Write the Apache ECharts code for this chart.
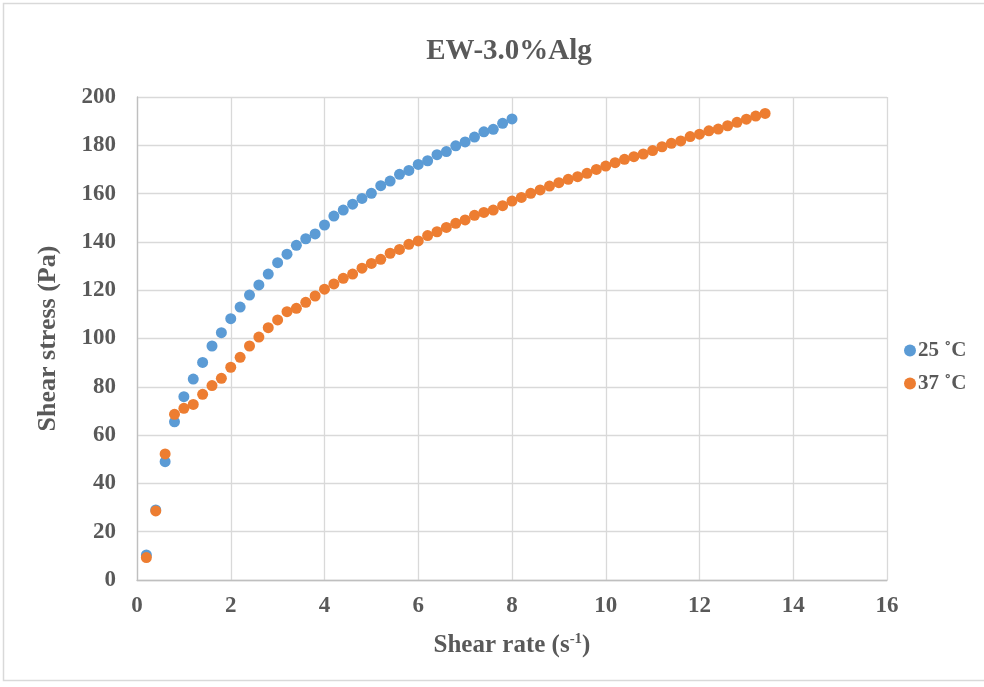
<!DOCTYPE html>
<html>
<head>
<meta charset="utf-8">
<script src="https://cdn.jsdelivr.net/npm/echarts@6/dist/echarts.min.js"></script>
<style>
html,body{margin:0;padding:0;background:#fff;}
#chart{width:984px;height:687px;}
</style>
</head>
<body>
<div id="chart"></div>
<script>
const titleText = "EW-3.0%Alg";
const seriesNames = ["25 ˚C", "37 ˚C"];
const xStep = 0.2;
const stress25 = [10.4, 29.0, 49.0, 65.5, 75.9, 83.2, 90.1, 96.9, 102.4, 108.2,
  113.0, 118.0, 122.2, 126.7, 131.4, 134.9, 138.6, 141.3, 143.3, 147.0,
  150.7, 153.2, 155.6, 158.0, 160.1, 163.3, 165.2, 168.0, 169.6, 172.1,
  173.6, 176.1, 177.4, 179.8, 181.4, 183.4, 185.6, 186.6, 189.1, 190.9];
const stress37 = [9.3, 28.6, 52.2, 68.6, 71.1, 72.7, 76.9, 80.5, 83.5, 88.1,
  92.2, 96.9, 100.6, 104.5, 107.7, 111.1, 112.5, 115.0, 117.6, 120.4,
  122.6, 124.9, 126.7, 129.1, 131.1, 132.8, 135.3, 136.9, 139.0, 140.4,
  142.6, 144.2, 146.0, 147.7, 149.1, 151.0, 152.2, 153.2, 155.0, 156.9,
  158.4, 160.1, 161.5, 163.1, 164.5, 165.9, 167.0, 168.4, 170.0, 171.4,
  172.8, 174.2, 175.3, 176.4, 177.8, 179.4, 180.8, 181.8, 183.6, 184.6,
  186.0, 186.7, 188.1, 189.5, 190.8, 192.1, 193.2];

function toPoints(arr) {
  return arr.map((v, i) => [Math.round((i + 1) * xStep * 10) / 10, v]);
}

const font = "'Liberation Serif', 'Times New Roman', serif";
const txt = '#595959';
const chart = echarts.init(document.getElementById('chart'), null, {renderer: 'canvas'});
chart.setOption({
  backgroundColor: '#fff',
  animation: false,
  graphic: [{
    type: 'rect', left: 1, top: 1,
    shape: {width: 990, height: 677},
    style: {fill: 'none', stroke: '#D9D9D9', lineWidth: 1.5}
  }],
  title: {
    text: titleText, left: 504, textAlign: 'center', top: 32,
    textStyle: {fontFamily: font, fontWeight: 'bold', fontSize: 29, color: txt}
  },
  legend: {
    orient: 'vertical', left: 899, top: 335, itemGap: 12,
    itemWidth: 12, itemHeight: 12, icon: 'circle',
    textStyle: {fontFamily: font, fontWeight: 'bold', fontSize: 21, color: txt, padding: [0,0,0,-3]},
    data: seriesNames
  },
  grid: {left: 137, right: 97, top: 97, bottom: 107},
  xAxis: {
    type: 'value', min: 0, max: 16, interval: 2,
    name: '{n|Shear rate (s}{s|-1}{n|)}',
    nameLocation: 'middle', nameGap: 52,
    nameTextStyle: {
      rich: {
        n: {fontFamily: font, fontWeight: 'bold', fontSize: 25, color: txt},
        s: {fontFamily: font, fontWeight: 'bold', fontSize: 15, color: txt, verticalAlign: 'top', padding: [0, 0, 12, 0]}
      }
    },
    axisLine: {lineStyle: {color: '#BFBFBF', width: 1.3}},
    axisTick: {show: false},
    splitLine: {lineStyle: {color: '#D9D9D9', width: 1.3}},
    axisLabel: {fontFamily: font, fontWeight: 'bold', fontSize: 23, color: txt, margin: 15}
  },
  yAxis: {
    type: 'value', min: 0, max: 200, interval: 20,
    name: 'Shear stress (Pa)', nameLocation: 'middle', nameGap: 76,
    nameTextStyle: {fontFamily: font, fontWeight: 'bold', fontSize: 26, color: txt},
    axisLine: {show: true, lineStyle: {color: '#BFBFBF', width: 1.3}},
    axisTick: {show: false},
    splitLine: {lineStyle: {color: '#D9D9D9', width: 1.3}},
    axisLabel: {fontFamily: font, fontWeight: 'bold', fontSize: 23, color: txt, margin: 21}
  },
  series: [
    {name: seriesNames[0], type: 'scatter', symbolSize: 11, itemStyle: {color: '#5B9BD5', opacity: 1}, data: toPoints(stress25)},
    {name: seriesNames[1], type: 'scatter', symbolSize: 11, itemStyle: {color: '#ED7D31', opacity: 1}, data: toPoints(stress37)}
  ]
});
</script>
</body>
</html>
